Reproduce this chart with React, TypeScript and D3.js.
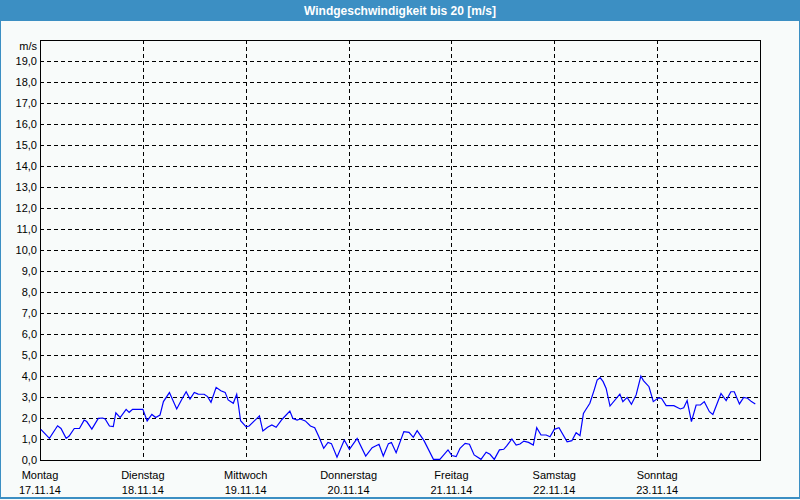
import React, { useEffect, useRef } from 'react';
import * as d3 from 'd3';

// hours since Mon 17.11.14 00:00 and wind speed in m/s
const hours = [
  0.2, 2.2, 4.1, 4.9, 6.1, 6.8, 8.0, 9.2, 10.3, 10.9, 12.1, 13.6, 14.6, 15.2, 16.2, 17.1, 17.7, 18.7, 20.1, 20.8, 21.6,
  24.0, 25.0, 26.1, 27.0, 28.0, 28.8, 30.2, 31.9, 33.1, 34.1, 35.0, 36.0, 36.9, 38.3, 39.1, 39.9, 41.1, 42.2, 43.2, 43.9,
  45.1, 45.9, 46.3, 46.8, 48.1, 48.8, 51.2, 52.0, 53.1, 54.1, 55.1, 56.5, 58.3, 59.0, 60.0, 60.7, 61.9, 63.1, 64.1, 65.0,
  66.2, 67.2, 68.0, 69.3, 71.0, 72.2, 74.0, 76.0, 77.5, 79.1, 80.1, 81.3, 82.0, 83.1, 84.9, 86.1, 87.1, 88.0, 89.6, 91.8,
  93.3, 95.2, 96.1, 97.1, 98.0, 99.2, 100.2, 101.3, 102.9, 104.1, 105.0, 106.0, 107.2, 108.2, 108.9, 110.1, 111.1, 112.0,
  112.9, 114.0, 115.1, 115.9, 116.9, 118.1, 119.0, 120.0, 121.1, 123.0, 124.1, 125.1, 126.0, 126.8, 127.3, 128.3, 129.3,
  130.0, 130.7, 131.4, 132.1, 133.0, 135.3, 136.0, 137.0, 138.0, 139.1, 140.2, 140.8, 142.1, 143.1, 144.3, 145.0, 146.1,
  147.9, 149.4, 150.2, 151.0, 152.0, 153.1, 154.1, 155.0, 156.2, 157.0, 158.9, 160.1, 161.2, 162.0, 163.2, 164.2, 165.1,
  166.0, 166.9,
];
const speeds = [
  1.46, 1.03, 1.63, 1.5, 1.03, 1.14, 1.5, 1.5, 1.9, 1.83, 1.47, 1.98, 2.0, 1.95, 1.62, 1.59, 2.25, 2.02, 2.41, 2.27, 2.41,
  2.41, 1.86, 2.17, 2.02, 2.14, 2.78, 3.21, 2.43, 2.89, 3.25, 2.9, 3.22, 3.14, 3.13, 3.02, 2.75, 3.46, 3.3, 3.22, 2.86,
  2.7, 3.13, 2.62, 1.87, 1.58, 1.62, 2.1, 1.38, 1.56, 1.67, 1.56, 1.94, 2.33, 1.98, 1.9, 1.95, 1.86, 1.62, 1.54, 1.14,
  0.56, 0.84, 0.78, 0.13, 0.95, 0.51, 1.03, 0.19, 0.59, 0.75, 0.19, 0.78, 0.83, 0.35, 1.35, 1.32, 1.08, 1.4, 0.92, 0.03,
  0.03, 0.48, 0.21, 0.16, 0.56, 0.79, 0.75, 0.24, 0.03, 0.37, 0.27, 0.03, 0.48, 0.51, 0.67, 1.0, 0.71, 0.76,
  0.9, 0.84, 0.71, 1.54, 1.19, 1.19, 1.11, 1.46, 1.54, 0.87, 0.92, 1.3, 1.16, 2.22, 2.38, 2.7, 3.33,
  3.81, 3.92, 3.73, 3.41, 2.57, 3.14, 2.78, 2.98, 2.65, 3.1, 4.0, 3.78, 3.49, 2.78, 2.96, 2.94, 2.59,
  2.59, 2.43, 2.49, 2.83, 1.83, 2.62, 2.62, 2.78, 2.3, 2.17, 3.17, 2.83, 3.25, 3.25, 2.67, 2.98, 2.94,
  2.78, 2.67,
];
const dayNames = ['Montag', 'Dienstag', 'Mittwoch', 'Donnerstag', 'Freitag', 'Samstag', 'Sonntag'];
const dayDates = ['17.11.14', '18.11.14', '19.11.14', '20.11.14', '21.11.14', '22.11.14', '23.11.14'];
const yTicks = d3.range(0, 20);

const App = () => {
  const ref = useRef<SVGSVGElement>(null);

  useEffect(() => {
    const svg = d3.select(ref.current);
    svg.selectAll('*').remove();

    const W = 800, H = 500;
    const margin = { top: 40, right: 40, bottom: 40, left: 40 };
    const font = 'Liberation Sans, Arial, sans-serif';

    // window background + frame
    svg.append('rect').attr('width', W).attr('height', H).attr('fill', '#f8fbfa');
    svg.append('rect').attr('x', 0.5).attr('y', 0.5).attr('width', W - 1).attr('height', H - 2.5)
      .attr('fill', 'none').attr('stroke', '#3c8fc3').attr('stroke-width', 1);
    svg.append('rect').attr('x', 0).attr('y', H - 3).attr('width', W).attr('height', 2).attr('fill', '#3c8fc3');

    // title bar
    svg.append('rect').attr('width', W).attr('height', 21).attr('fill', '#3c8fc3');
    svg.append('text').attr('x', W / 2).attr('y', 15).attr('text-anchor', 'middle')
      .attr('fill', '#fff').attr('font-family', font).attr('font-weight', 'bold').attr('font-size', 12)
      .text('Windgeschwindigkeit bis 20 [m/s]');

    const x = d3.scaleLinear().domain([0, 168]).range([margin.left, W - margin.right]);
    const y = d3.scaleLinear().domain([0, 20]).range([H - margin.bottom, margin.top]);

    // horizontal grid
    svg.append('g').selectAll('line').data(yTicks.filter(d => d > 0)).join('line')
      .attr('x1', x(0)).attr('x2', x(168))
      .attr('y1', d => Math.round(y(d)) + 0.5).attr('y2', d => Math.round(y(d)) + 0.5)
      .attr('stroke', '#000').attr('stroke-dasharray', '4,3').attr('shape-rendering', 'crispEdges');

    // vertical day grid
    svg.append('g').selectAll('line').data(d3.range(1, 7)).join('line')
      .attr('x1', d => Math.round(x(d * 24)) + 0.5).attr('x2', d => Math.round(x(d * 24)) + 0.5)
      .attr('y1', y(20)).attr('y2', y(0))
      .attr('stroke', '#000').attr('stroke-dasharray', '4,3').attr('shape-rendering', 'crispEdges');

    // frame
    svg.append('rect').attr('x', x(0) + 0.5).attr('y', y(20) + 0.5)
      .attr('width', x(168) - x(0)).attr('height', y(0) - y(20))
      .attr('fill', 'none').attr('stroke', '#000').attr('shape-rendering', 'crispEdges');

    // y labels
    svg.append('g').selectAll('text').data(yTicks).join('text')
      .attr('x', x(0) - 3).attr('y', d => y(d) + 4).attr('text-anchor', 'end')
      .attr('font-family', font).attr('font-size', 11).attr('fill', '#000')
      .text(d => d3.format('.1f')(d).replace('.', ','));
    svg.append('text').attr('x', x(0) - 3).attr('y', y(20) + 10).attr('text-anchor', 'end')
      .attr('font-family', font).attr('font-size', 11).text('m/s');

    // x labels
    const xl = svg.append('g').selectAll('g').data(dayNames).join('g');
    xl.append('text').attr('x', (d, i) => x(i * 24)).attr('y', 479).attr('text-anchor', 'middle')
      .attr('font-family', font).attr('font-size', 11).text(d => d);
    xl.append('text').attr('x', (d, i) => x(i * 24)).attr('y', 494).attr('text-anchor', 'middle')
      .attr('font-family', font).attr('font-size', 11).text((d, i) => dayDates[i]);

    // data line
    const pts = hours.map((h, i) => [h, speeds[i]] as [number, number]);
    const line = d3.line<[number, number]>().x(d => x(d[0])).y(d => y(d[1]));
    svg.append('path').datum(pts).attr('d', line)
      .attr('fill', 'none').attr('stroke', '#0000ff').attr('stroke-width', 1.2);
  }, []);

  return (
    <div style={{ position: 'absolute', left: 0, top: 0 }}>
      <svg ref={ref} width={800} height={500} style={{ display: 'block' }} />
    </div>
  );
};

export default App;
